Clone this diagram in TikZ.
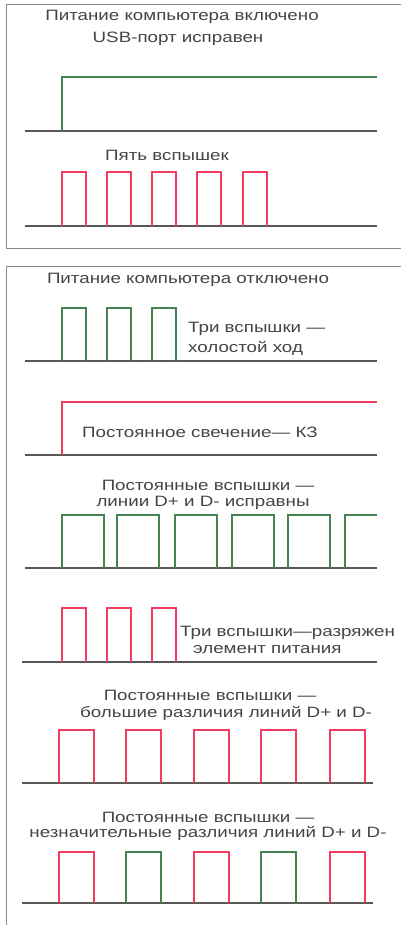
\documentclass[tikz,border=0pt]{standalone}
\usepackage{fontspec}
\setmainfont{Liberation Sans}[FakeStretch=1.25]
\definecolor{sgreen}{HTML}{458452}
\definecolor{sred}{HTML}{F23C62}
\definecolor{ink}{HTML}{454545}
\definecolor{frame}{HTML}{8A8A8A}
\tikzset{
  lbl/.style={inner sep=0pt, text=ink, font=\fontsize{15}{17}\selectfont},
  base/.style={draw=ink!90, line width=1.5pt},
  gsig/.style={draw=sgreen, line width=2.4pt, line join=miter},
  rsig/.style={draw=sred, line width=2.4pt, line join=miter},
  box/.style={draw=frame, line width=1pt}
}
\begin{document}
\begin{tikzpicture}[x=1pt,y=-1pt]
\useasboundingbox (0,0) rectangle (400,925);
\fill[white] (0,0) rectangle (400,925);
% frames
\draw[box] (410,5) -- (6,5) -- (6,248) -- (410,248);
\draw[box] (410,266) -- (6,266) -- (6,930);

% ---------- panel 1
\node[lbl] (t1) at (182,17) {Питание компьютера включено};
\node[lbl] (t2) at (178,39) {USB-порт исправен};
\draw[base] (25,131) -- (377,131);
\draw[gsig] (62,131) -- (62,77) -- (377,77);
\node[lbl] (t3) at (167,155) {Пять вспышек};
\draw[base] (25,226) -- (377,226);
\foreach \x in {62,107,152,197,243}
  \draw[rsig] (\x,226) -- (\x,172) -- (\x+24,172) -- (\x+24,226);

% ---------- panel 2
\node[lbl] (t4) at (188,280) {Питание компьютера отключено};
\draw[base] (25,361) -- (377,361);
\foreach \x in {62,107,152}
  \draw[gsig] (\x,361) -- (\x,308) -- (\x+24,308) -- (\x+24,361);
\node[lbl, anchor=west] (t5a) at (188,329) {Три вспышки —};
\node[lbl, anchor=west] (t5b) at (188,348) {холостой ход};

\draw[base] (25,455) -- (377,455);
\draw[rsig] (62,455) -- (62,402) -- (377,402);
\node[lbl, anchor=west] (t6) at (82,432) {Постоянное свечение— КЗ};

\node[lbl] (t7a) at (208,485) {Постоянные вспышки —};
\node[lbl] (t7b) at (203,503) {линии D+ и D- исправны};
\draw[base] (25,568) -- (377,568);
\foreach \x in {62,117,175,232,288}
  \draw[gsig] (\x,568) -- (\x,515) -- (\x+42,515) -- (\x+42,568);
\draw[gsig] (345,568) -- (345,515) -- (377,515);

\draw[base] (22,662) -- (377,662);
\foreach \x in {62,107,152}
  \draw[rsig] (\x,662) -- (\x,608) -- (\x+24,608) -- (\x+24,662);
\node[lbl, anchor=west] (t8a) at (180,633) {Три вспышки—разряжен};
\node[lbl, anchor=west] (t8b) at (193,650) {элемент питания};

\node[lbl] (t9a) at (210,695) {Постоянные вспышки —};
\node[lbl] (t9b) at (226,713) {большие различия линий D+ и D-};
\draw[base] (22,783) -- (373,783);
\foreach \x in {59,126,194,261,330}
  \draw[rsig] (\x,783) -- (\x,730) -- (\x+35,730) -- (\x+35,783);

\node[lbl] (t10a) at (208,817) {Постоянные вспышки —};
\node[lbl] (t10b) at (208,833) {незначительные различия линий D+ и D-};
\draw[base] (22,903) -- (373,903);
\foreach \x/\c in {59/sred,126/sgreen,194/sred,261/sgreen,330/sred}
  \draw[draw=\c, line width=2.4pt] (\x,903) -- (\x,852) -- (\x+35,852) -- (\x+35,903);
\end{tikzpicture}
\end{document}
